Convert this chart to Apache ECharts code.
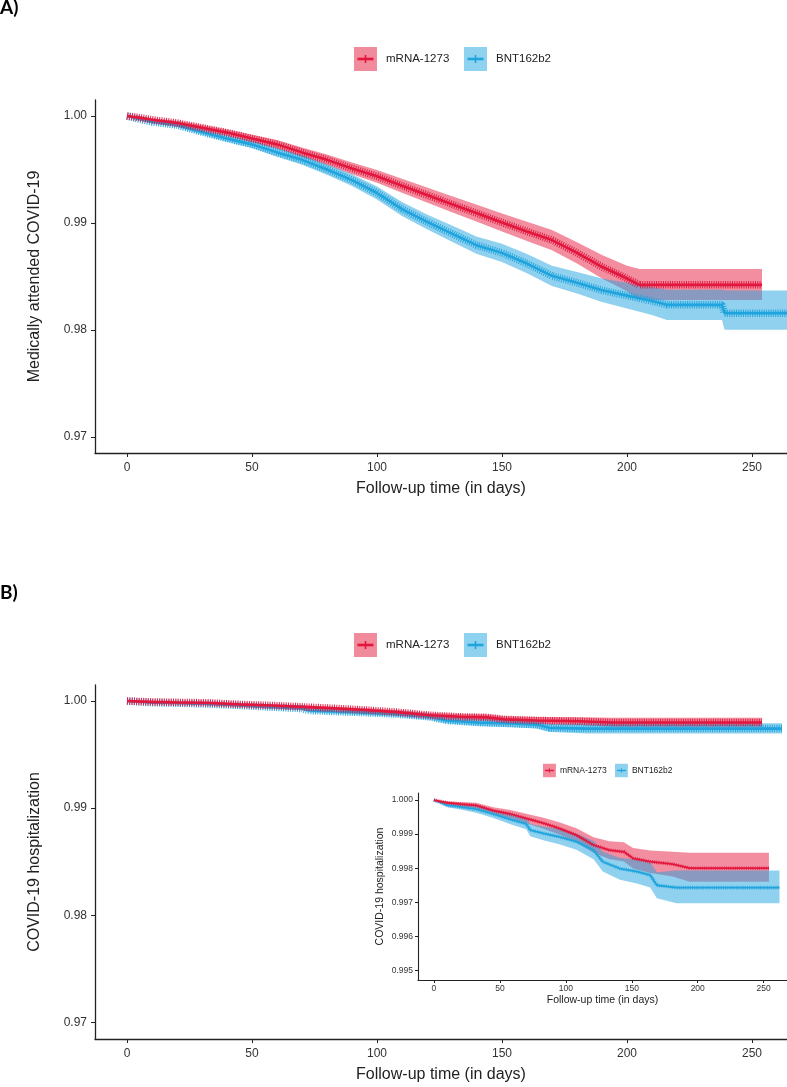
<!DOCTYPE html>
<html>
<head>
<meta charset="utf-8">
<script src="https://cdn.jsdelivr.net/npm/echarts@6/dist/echarts.min.js"></script>
<style>
html,body{margin:0;padding:0;background:#fff;}
#chart{width:787px;height:1087px;}
</style>
</head>
<body>
<div id="chart"></div>
<script>
// ---------- DATA ----------
const seriesNames = ['mRNA-1273', 'BNT162b2'];
const xTicks = [0, 50, 100, 150, 200, 250];
const yTicksMain = [0.97, 0.98, 0.99, 1.00];
const yTicksInset = [0.995, 0.996, 0.997, 0.998, 0.999, 1.000];

// Panel A: Medically attended COVID-19
const daysRedA = [0, 5, 10, 20, 30, 40, 50, 60, 70, 80, 90, 100, 110, 120, 130, 140, 150, 160, 170, 180, 190, 200, 205, 254];
const survRedA = [1.0000, 0.99985, 0.99965, 0.99935, 0.99890, 0.99845, 0.99790, 0.99735, 0.99660, 0.99590, 0.99510, 0.99436, 0.99348, 0.99261, 0.99175, 0.99090, 0.99004, 0.98920, 0.98840, 0.98720, 0.98590, 0.98480, 0.98421, 0.98421];
const lowRedA  = [1.0000, 0.99975, 0.99950, 0.99915, 0.99865, 0.99815, 0.99755, 0.99695, 0.99615, 0.99540, 0.99455, 0.99376, 0.99283, 0.99191, 0.99100, 0.99010, 0.98919, 0.98830, 0.98745, 0.98620, 0.98480, 0.98360, 0.98280, 0.98280];
const upRedA   = [1.0000, 0.99995, 0.99980, 0.99955, 0.99915, 0.99875, 0.99825, 0.99775, 0.99705, 0.99640, 0.99565, 0.99496, 0.99413, 0.99331, 0.99250, 0.99170, 0.99089, 0.99010, 0.98935, 0.98820, 0.98700, 0.98600, 0.98570, 0.98570];

const daysBlueA = [0, 5, 10, 20, 30, 40, 50, 60, 70, 80, 90, 100, 110, 120, 130, 140, 150, 160, 170, 180, 190, 200, 210, 216, 238, 239, 264];
const survBlueA = [1.0000, 0.99970, 0.99945, 0.99915, 0.99850, 0.99790, 0.99735, 0.99660, 0.99590, 0.99500, 0.99400, 0.99280, 0.99130, 0.99010, 0.98900, 0.98790, 0.98720, 0.98620, 0.98505, 0.98440, 0.98370, 0.98320, 0.98270, 0.98234, 0.98234, 0.98156, 0.98156];
const lowBlueA  = [1.0000, 0.99960, 0.99930, 0.99895, 0.99825, 0.99760, 0.99700, 0.99620, 0.99545, 0.99450, 0.99345, 0.99220, 0.99065, 0.98940, 0.98825, 0.98710, 0.98635, 0.98530, 0.98410, 0.98340, 0.98260, 0.98200, 0.98140, 0.98093, 0.98093, 0.98000, 0.98000];
const upBlueA   = [1.0000, 0.99980, 0.99960, 0.99935, 0.99875, 0.99820, 0.99770, 0.99700, 0.99635, 0.99550, 0.99455, 0.99340, 0.99195, 0.99080, 0.98975, 0.98870, 0.98805, 0.98710, 0.98600, 0.98540, 0.98480, 0.98440, 0.98400, 0.98374, 0.98374, 0.98367, 0.98367];

// Panel B: COVID-19 hospitalization (main plot and inset share the data)
const daysRedB = [0, 10, 20, 32, 45, 58, 70, 83, 95, 108, 121, 133, 144, 151, 164, 181, 194, 254];
const survRedB = [1.0000, 0.99992, 0.99988, 0.99984, 0.99969, 0.99959, 0.99946, 0.99932, 0.99917, 0.99897, 0.99868, 0.99853, 0.99848, 0.99829, 0.99819, 0.99812, 0.99800, 0.99800];
const lowRedB  = [1.0000, 0.99988, 0.99982, 0.99976, 0.99959, 0.99947, 0.99932, 0.99916, 0.99899, 0.99877, 0.99845, 0.99827, 0.99820, 0.99799, 0.99786, 0.99776, 0.99760, 0.99760];
const upRedB   = [1.0000, 0.99996, 0.99994, 0.99992, 0.99979, 0.99971, 0.99960, 0.99948, 0.99935, 0.99917, 0.99891, 0.99879, 0.99876, 0.99859, 0.99852, 0.99848, 0.99845, 0.99845];

const daysBlueB = [0, 10, 20, 32, 45, 58, 70, 73, 83, 95, 108, 121, 128, 141, 154, 164, 169, 184, 262];
const survBlueB = [1.0000, 0.99985, 0.99980, 0.99973, 0.99959, 0.99943, 0.99930, 0.99912, 0.99902, 0.99892, 0.99878, 0.99853, 0.99819, 0.99799, 0.99790, 0.99780, 0.99750, 0.99743, 0.99743];
const lowBlueB  = [1.0000, 0.99979, 0.99972, 0.99963, 0.99947, 0.99929, 0.99914, 0.99894, 0.99882, 0.99870, 0.99854, 0.99826, 0.99790, 0.99766, 0.99755, 0.99743, 0.99712, 0.99697, 0.99697];
const upBlueB   = [1.0000, 0.99991, 0.99988, 0.99983, 0.99971, 0.99957, 0.99946, 0.99930, 0.99922, 0.99914, 0.99902, 0.99880, 0.99848, 0.99830, 0.99825, 0.99817, 0.99788, 0.99793, 0.99793];

// ---------- STYLE ----------
const RED = '#E3173E', BLUE = '#20A4DE';
const RED_BAND = 'rgba(231,30,66,0.5)', BLUE_BAND = 'rgba(32,164,222,0.5)';
const RED_KEY = '#F18B9C', BLUE_KEY = '#8FD2EF';
const FONT = 'Liberation Sans, Arial, sans-serif';
const TXT = '#222';

const pairs = (xs, ys) => xs.map((x, i) => [x, ys[i]]);

function bandSeries(idx, days, lo, up, color) {
  return {
    type: 'custom', xAxisIndex: idx, yAxisIndex: idx, silent: true, clip: true, z: 1,
    data: days.map((d, i) => [d, lo[i], up[i]]),
    encode: { x: 0, y: [1, 2] },
    renderItem: function (params, api) {
      if (params.dataIndex !== 0) return null;
      const pts = [];
      for (let i = 0; i < days.length; i++) pts.push(api.coord([days[i], up[i]]));
      for (let i = days.length - 1; i >= 0; i--) pts.push(api.coord([days[i], lo[i]]));
      return { type: 'polygon', shape: { points: pts }, style: { fill: color } };
    }
  };
}
function curveSeries(idx, name, days, surv, color, thin) {
  return [
    { type: 'line', name: name, xAxisIndex: idx, yAxisIndex: idx, data: pairs(days, surv),
      symbol: 'none', lineStyle: { color: color, width: thin ? 1.8 : 2.6 }, z: 3 },
    { type: 'line', xAxisIndex: idx, yAxisIndex: idx, data: pairs(days, surv),
      symbol: 'none', silent: true,
      lineStyle: { color: color, width: thin ? 3.6 : 7.5, type: thin ? [0.8, 1.4] : [1, 1.3], cap: 'butt', opacity: 0.95 }, z: 3 }
  ];
}

function xAxisCfg(idx, min, max, inset) {
  return {
    type: 'value', gridIndex: idx, min: min, max: max,
    name: 'Follow-up time (in days)', nameLocation: 'middle', nameGap: inset ? 15 : 28,
    nameTextStyle: { fontFamily: FONT, fontSize: inset ? 10.5 : 16, color: TXT },
    axisLine: { show: true, onZero: false, lineStyle: { color: TXT, width: inset ? 1.1 : 1.3 } },
    axisTick: { show: true, length: inset ? 3 : 4, customValues: xTicks, lineStyle: { color: TXT } },
    axisLabel: { customValues: xTicks, margin: inset ? 4 : 9, fontFamily: FONT, fontSize: inset ? 8.5 : 12, color: '#333' },
    splitLine: { show: false }
  };
}
function yAxisCfg(idx, name, min, max, inset) {
  const ticks = inset ? yTicksInset : yTicksMain;
  return {
    type: 'value', gridIndex: idx, min: min, max: max,
    name: name, nameLocation: 'middle', nameGap: inset ? 32 : 52,
    nameTextStyle: { fontFamily: FONT, fontSize: inset ? 10.5 : 16, color: TXT },
    axisLine: { show: true, onZero: false, lineStyle: { color: TXT, width: inset ? 1.1 : 1.3 } },
    axisTick: { show: true, length: inset ? 3 : 4, customValues: ticks, lineStyle: { color: TXT } },
    axisLabel: { customValues: ticks, margin: inset ? 5 : 8, fontFamily: FONT, fontSize: inset ? 8.5 : 12, color: '#333',
      formatter: v => v.toFixed(inset ? 3 : 2) },
    splitLine: { show: false }
  };
}

function legendGraphic(x0, yc, s, fontSize, textGap, secondX) {
  const items = [];
  const k = 23 * s, kh = 24 * s;
  [[x0, RED_KEY, RED, seriesNames[0]], [secondX, BLUE_KEY, BLUE, seriesNames[1]]].forEach(([x, fill, line, label]) => {
    items.push({ type: 'rect', shape: { x: x, y: yc - kh / 2, width: k, height: kh }, style: { fill: fill } });
    items.push({ type: 'line', shape: { x1: x + 3.5 * s, y1: yc, x2: x + k - 3.5 * s, y2: yc }, style: { stroke: line, lineWidth: 2.6 * s } });
    items.push({ type: 'line', shape: { x1: x + k / 2, y1: yc - 4 * s, x2: x + k / 2, y2: yc + 4 * s }, style: { stroke: line, lineWidth: 1.6 * s } });
    items.push({ type: 'text', x: x + k + textGap, y: yc,
      style: { text: label, font: fontSize + 'px ' + FONT, fill: TXT, verticalAlign: 'middle', align: 'left' } });
  });
  return items;
}

const chart = echarts.init(document.getElementById('chart'), null, { renderer: 'canvas' });
const option = {
  animation: false,
  backgroundColor: '#ffffff',
  grid: [
    { left: 95, top: 100, width: 692, height: 353 },
    { left: 95, top: 685, width: 692, height: 354 },
    { left: 418, top: 793, width: 369, height: 187 }
  ],
  xAxis: [
    xAxisCfg(0, -12.8, 264, false),
    xAxisCfg(1, -12.8, 264, false),
    xAxisCfg(2, -12.1, 267.7, true)
  ],
  yAxis: [
    yAxisCfg(0, 'Medically attended COVID-19', 0.96848, 1.0015, false),
    yAxisCfg(1, 'COVID-19 hospitalization', 0.96844, 1.0015, false),
    yAxisCfg(2, 'COVID-19 hospitalization', 0.99472, 1.000206, true)
  ],
  series: [].concat(
    [bandSeries(0, daysRedA, lowRedA, upRedA, RED_BAND),
     bandSeries(0, daysBlueA, lowBlueA, upBlueA, BLUE_BAND)],
    curveSeries(0, seriesNames[1], daysBlueA, survBlueA, BLUE, false),
    curveSeries(0, seriesNames[0], daysRedA, survRedA, RED, false),
    [bandSeries(1, daysRedB, lowRedB, upRedB, RED_BAND),
     bandSeries(1, daysBlueB, lowBlueB, upBlueB, BLUE_BAND)],
    curveSeries(1, seriesNames[1], daysBlueB, survBlueB, BLUE, false),
    curveSeries(1, seriesNames[0], daysRedB, survRedB, RED, false),
    [bandSeries(2, daysRedB, lowRedB, upRedB, RED_BAND),
     bandSeries(2, daysBlueB, lowBlueB, upBlueB, BLUE_BAND)],
    curveSeries(2, seriesNames[1], daysBlueB, survBlueB, BLUE, true),
    curveSeries(2, seriesNames[0], daysRedB, survRedB, RED, true)
  ),
  graphic: [].concat(
    [
      { type: 'text', x: 0, y: 8, style: { text: 'A)', font: 'bold 19px Lato, sans-serif', fill: '#000', verticalAlign: 'middle' } },
      { type: 'text', x: 0, y: 593, style: { text: 'B)', font: 'bold 19px Lato, sans-serif', fill: '#000', verticalAlign: 'middle' } }
    ],
    legendGraphic(354, 59, 1, 11.5, 9, 464),
    legendGraphic(354, 645, 1, 11.5, 9, 464),
    legendGraphic(543, 770.5, 0.56, 8.5, 4, 615)
  )
};
chart.setOption(option);
</script>
</body>
</html>
